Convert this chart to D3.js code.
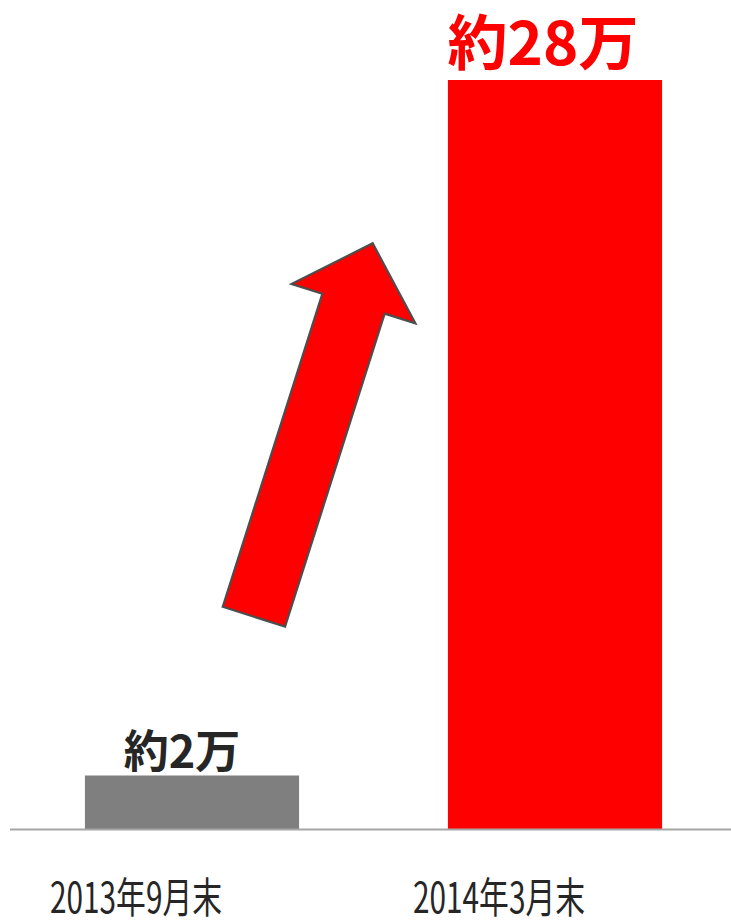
<!DOCTYPE html>
<html><head><meta charset="utf-8">
<script src="https://cdn.jsdelivr.net/npm/d3@7"></script>
<style>html,body{margin:0;padding:0;background:#fff;}svg{display:block;}</style>
</head><body>
<svg id="c" width="731" height="921"></svg>
<script>
const categories = ["2013年9月末", "2014年3月末"];
const values = [2, 28];
const valueLabels = ["約2万", "約28万"];
const barColors = ["#7f7f7f", "#ff0000"];
const labelColors = ["#262626", "#ff0000"];

const svg = d3.select("#c");
const baseY = 829, topY = 80;
const x = d3.scaleBand().domain(categories).range([10.5, 736.5]).paddingInner(0.41).paddingOuter(0.205);
const y = d3.scaleLinear().domain([0, 28]).range([baseY, topY]);

svg.selectAll("rect.bar").data(values).join("rect")
  .attr("class","bar")
  .attr("x",(d,i)=>x(categories[i]))
  .attr("width",x.bandwidth())
  .attr("y",d=>y(d))
  .attr("height",d=>y(0)-y(d))
  .attr("fill",(d,i)=>barColors[i]);

svg.append("line").attr("x1",10).attr("x2",731).attr("y1",baseY+0.5).attr("y2",baseY+0.5)
  .attr("stroke","#a6a6a6").attr("stroke-width",2);

// value labels
const fs = [45, 60];
svg.selectAll("text.val").data(values).join("text")
  .attr("class","val")
  .attr("x",(d,i)=>x(categories[i])+x.bandwidth()/2-(i===0?10:12))
  .attr("y",(d,i)=>y(d)-(i===0?8:15))
  .attr("text-anchor","middle")
  .attr("font-family","'Noto Sans CJK JP', sans-serif")
  .attr("font-weight",700)
  .attr("font-size",(d,i)=>fs[i])
  .attr("fill",(d,i)=>labelColors[i])
  .text((d,i)=>valueLabels[i]);

// category labels
svg.selectAll("text.cat").data(categories).join("text")
  .attr("class","cat")
  .attr("x",d=>x(d)+x.bandwidth()/2-56)
  .attr("y",913)
  .attr("text-anchor","middle")
  .attr("font-family","'Noto Sans CJK JP', sans-serif")
  .attr("font-weight",400)
  .attr("font-size",42)
  .attr("fill","#262626")
  .attr("textLength",172)
  .attr("lengthAdjust","spacingAndGlyphs")
  .text(d=>d);

// arrow annotation
const tail = [253.9, 616.7], tip = [372.7, 243.3];
const len = Math.hypot(tip[0]-tail[0], tip[1]-tail[1]);
const ang = Math.atan2(tip[0]-tail[0], -(tip[1]-tail[1])) * 180/Math.PI;
const sw = 65.4/2, hw = 130/2, hl = 63.4;
const pts = [[-sw,0],[sw,0],[sw,-(len-hl)],[hw,-(len-hl)],[0,-len],[-hw,-(len-hl)],[-sw,-(len-hl)]];
svg.append("path")
  .attr("transform",`translate(${tail[0]},${tail[1]}) rotate(${ang})`)
  .attr("d", d3.line()(pts)+"Z")
  .attr("fill","#ff0000").attr("stroke","#4d4d4d").attr("stroke-width",2.2).attr("stroke-linejoin","miter");
</script>
</body></html>
